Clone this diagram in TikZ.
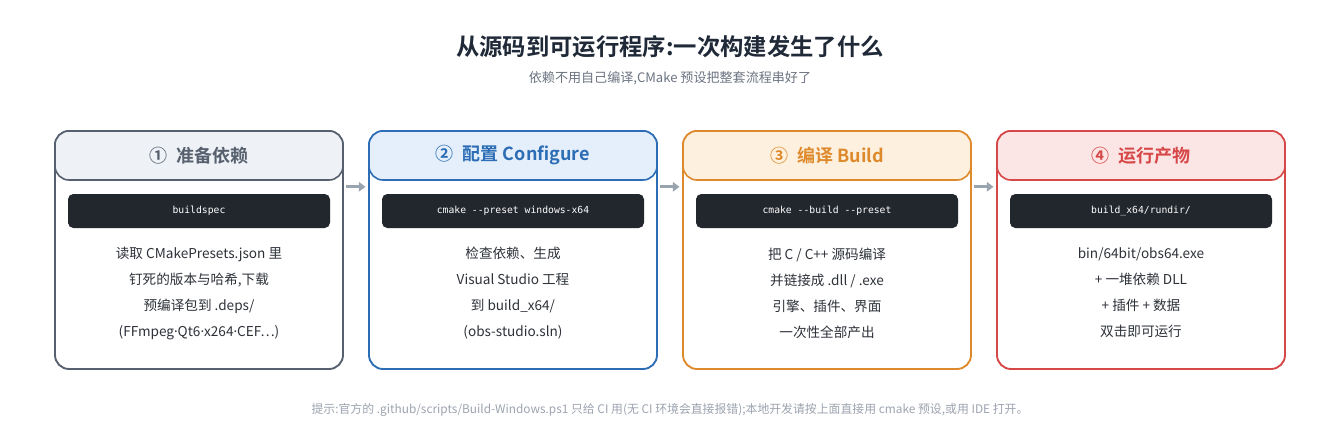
\documentclass[tikz,border=0pt]{standalone}
\usepackage{fontspec}
\setmainfont{Noto Sans CJK SC}[BoldFont={Noto Sans CJK SC Bold}]
\setmonofont{DejaVu Sans Mono}
\newfontfamily\latinfont{Noto Sans}
\newcommand\mdot{{\latinfont ·}}
\usetikzlibrary{arrows.meta}

\definecolor{ink}{HTML}{1F2937}
\definecolor{textc}{HTML}{2D3239}
\definecolor{subc}{HTML}{6B7280}
\definecolor{notec}{HTML}{9CA3AF}
\definecolor{codebg}{HTML}{22262D}
\definecolor{arrowc}{HTML}{9AA4AF}
\definecolor{slate}{HTML}{56606E}
\definecolor{slatebg}{HTML}{EEF1F5}
\definecolor{blue}{HTML}{2D6DB5}
\definecolor{bluebg}{HTML}{E4EFFB}
\definecolor{orange}{HTML}{DE8A2C}
\definecolor{orangebg}{HTML}{FDF0DE}
\definecolor{red}{HTML}{D64747}
\definecolor{redbg}{HTML}{FCE5E5}

\tikzset{
  stage/.style={draw, fill=white, line width=1.4pt, rounded corners=10.5pt,
    minimum width=216pt, minimum height=178.5pt},
  head/.style={draw, line width=1.2pt, rounded corners=10.5pt,
    minimum width=216pt, minimum height=36.75pt, font=\fontsize{13.5}{16}\selectfont\bfseries},
  code/.style={fill=codebg, rounded corners=4pt, minimum width=196.5pt,
    minimum height=25.5pt, text=white, font=\fontsize{7.3}{9}\ttfamily},
  body/.style={align=center, text=textc, font=\fontsize{10.2}{19.5}\selectfont},
  flow/.style={draw=arrowc, line width=2.2pt, -{Triangle[length=5pt,width=7pt]}}
}

\begin{document}
\begin{tikzpicture}[x=0.75pt,y=-0.75pt]
\useasboundingbox (0,0) rectangle (1340,440);

\node[text=ink, font=\fontsize{17.5}{20}\selectfont\bfseries] (title) at (670,47) {从源码到可运行程序:一次构建发生了什么};
\node[text=subc, font=\fontsize{9.8}{12}\selectfont] (sub) at (670,78) {依赖不用自己编译,CMake 预设把整套流程串好了};

\foreach \i/\x/\c/\bg/\t/\cmd/\txt in {
  1/199/slate/slatebg/{①\enspace 准备依赖}/{buildspec}/{读取 CMakePresets.json 里\\钉死的版本与哈希,下载\\预编译包到 .deps/\\(FFmpeg\mdot Qt6\mdot x264\mdot CEF…)},
  2/513/blue/bluebg/{②\enspace 配置 Configure}/{cmake --preset windows-x64}/{检查依赖、生成\\Visual Studio 工程\\到 build\_x64/\\(obs-studio.sln)},
  3/827/orange/orangebg/{③\enspace 编译 Build}/{cmake --build --preset}/{把 C / C++ 源码编译\\并链接成 .dll / .exe\\引擎、插件、界面\\一次性全部产出},
  4/1141/red/redbg/{④\enspace 运行产物}/{build\_x64/rundir/}/{bin/64bit/obs64.exe\\+ 一堆依赖 DLL\\+ 插件 + 数据\\双击即可运行}}
{
  \node[stage, draw=\c] (s\i) at (\x,250) {};
  \node[head, draw=\c, fill=\bg, text=\c] (h\i) at (\x,155.5) {\t};
  \node[code] (c\i) at (\x,211) {\cmd};
  \node[body] (b\i) at (\x,293) {\txt};
}

\foreach \i/\j in {1/2,2/3,3/4}
  \draw[flow, shorten <=1.5pt, shorten >=2pt] ([yshift=-4.5pt]h\i.south east) -- ([yshift=-4.5pt]h\j.south west);

\node[text=notec, font=\fontsize{8.9}{10}\selectfont] (note) at (670,410) {提示:官方的 .github/scripts/Build-Windows.ps1 只给 CI 用(无 CI 环境会直接报错);本地开发请按上面直接用 cmake 预设,或用 IDE 打开。};
\end{tikzpicture}
\end{document}
